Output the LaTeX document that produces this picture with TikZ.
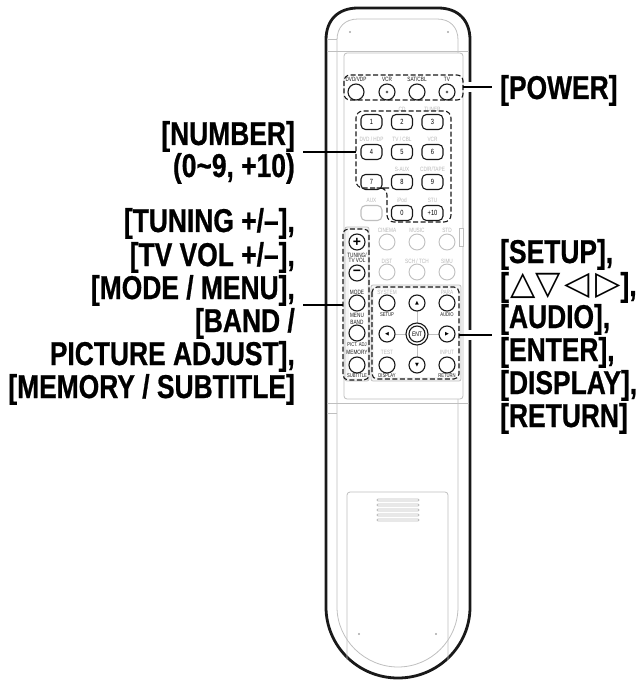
\documentclass[tikz,border=0pt]{standalone}
\usepackage{fontspec}
\setmainfont{Liberation Sans}
\newfontfamily\lblfont[FakeStretch=0.80,FakeBold=0.7]{Liberation Sans Bold}
\newfontfamily\smfont[FakeStretch=0.76]{Liberation Sans}
\newfontfamily\symfont{DejaVu Sans}
\definecolor{ln}{gray}{0.75}
\definecolor{gt}{gray}{0.72}
\definecolor{bk}{gray}{0.10}
\tikzset{
 lbl/.style={font=\lblfont\fontsize{33}{33}\selectfont,text=black,inner sep=0pt,anchor=base east},
 lblr/.style={font=\lblfont\fontsize{33}{33}\selectfont,text=black,inner sep=0pt,anchor=base west},
 leader/.style={line width=2.6pt,black},
 gline/.style={line width=0.8pt,ln},
 btn/.style={circle,draw=bk,line width=1.1pt,minimum size=16pt,inner sep=0pt,fill=white},
 gbtn/.style={circle,draw=ln,line width=0.9pt,minimum size=16pt,inner sep=0pt,fill=white},
 key/.style={rectangle,rounded corners=4.5pt,draw=bk,line width=1.1pt,minimum width=21pt,minimum height=15pt,inner sep=0pt,font=\smfont\fontsize{7.5}{8}\selectfont},
 gtxt/.style={font=\smfont\fontsize{6.2}{7}\selectfont,text=gt,inner sep=0pt},
 btxt/.style={font=\smfont\fontsize{6.2}{7}\selectfont,text=bk,inner sep=0pt},
 bsmall/.style={font=\smfont\fontsize{5.5}{6}\selectfont,text=bk,inner sep=0pt},
 dbox/.style={draw=bk,line width=1.1pt,dash pattern=on 5pt off 2.5pt},
}
\begin{document}
\begin{tikzpicture}[x=1pt,y=-1pt]
\useasboundingbox (0,0) rectangle (642,684);
% remote body
\draw[line width=2.8pt,bk] (326,40) .. controls (326,20) and (338,8) .. (358,8) -- (438,8) .. controls (458,8) and (470,20) .. (470,40) -- (470,607) .. controls (470,646) and (438,678) .. (398,678) .. controls (358,678) and (326,646) .. (326,607) -- cycle;
\draw[gline] (337,40) .. controls (337,27) and (345,19) .. (358,19) -- (437,19) .. controls (450,19) and (458,27) .. (458,40) -- (458,607) .. controls (458,640) and (431,667) .. (398,667) .. controls (365,667) and (337,640) .. (337,607) -- cycle;
\draw[gline] (327,39) -- (337,39);
\draw[gline] (327,51) -- (469,51);
\draw[gline] (327,403) -- (469,403);
\draw[gline] (327,413) -- (337,413);
\draw[gline,rounded corners=3pt,fill=white] (344,53) rectangle (463,399);
% screws
\foreach \x/\y in {350/32,448/32,359/634,436/634} \fill[gray!70] (\x,\y) circle (1.2pt);
% battery cover
\draw[gline,rounded corners=3pt] (347,660) -- (347,492) -- (448,492) -- (448,660);
\foreach \y in {500,505,510,515,520} \draw[gline,rounded corners=1pt] (377,\y-1) rectangle (419,\y+1);
% sub panel
\draw[gline,rounded corners=2pt,fill=gray!8] (371,285) rectangle (461,381);
\fill[white] (374,289) rectangle (458,377);
\draw[gline,rounded corners=2pt,fill=gray!8] (345,227) rectangle (369,381);
\fill[white] (349,230) rectangle (367,378);
% power row
\node[btn] (p1) at (356,92) {};
\node[btn] (p2) at (387,92) {};
\node[btn] (p3) at (417,92) {};
\node[btn] (p4) at (447,92) {};
\fill[bk] (p2) circle (1.4pt); \fill[white] (p2) circle (0.6pt);
\fill[bk] (p4) circle (1.4pt); \fill[white] (p4) circle (0.6pt);
\node[btxt] (lp1) at (356,79) {DVD/VDP};
\node[btxt] (lp2) at (387,79) {VCR};
\node[btxt] (lp3) at (417,79) {SAT/CBL};
\node[btxt] (lp4) at (447,79) {TV};
\draw[dbox,rounded corners=6pt] (344,75) rectangle (463,100);
% number pad
\foreach \n/\t/\x/\y in {k1/1/371.5/122,k2/2/402/122,k3/3/432.5/122,k4/4/371.5/152,k5/5/402/152,k6/6/432.5/152,k7/7/371.5/182,k8/8/402/182,k9/9/432.5/182,k0/0/402/213,k10/+10/432.5/213}
  \node[key] (\n) at (\x,\y) {\t};
\node[key,draw=ln] (kaux) at (371.5,213) {};
\foreach \n/\t/\x/\y in {a/CD/402/109,b/TUNER/432.5/109,c/{DVD / HDP}/371.5/139,d/{TV / CBL}/402/139,e/VCR/432.5/139,f/S-AUX/402/169,g/{CD/R/TAPE}/432.5/169,h/AUX/371.5/200,i/iPod/402/200,j/STU/432.5/200}
  \node[gtxt] (t\n) at (\x,\y) {\t};
\draw[dbox,rounded corners=7pt] (382,188) -- (356,188) -- (356,111) -- (451,111) -- (451,222) -- (387,222) -- (387,188) -- cycle;
% grey rows
\foreach \n/\t/\x in {a/CINEMA/387,b/MUSIC/417,c/STD/447} {\node[gbtn] (g\n) at (\x,242) {}; \node[gtxt] (gl\n) at (\x,230) {\t};}
\foreach \n/\t/\x in {d/{D/ST}/387,e/{SCH / TCH}/417,f/SIMU/447} {\node[gbtn] (g\n) at (\x,272) {}; \node[gtxt] (gl\n) at (\x,261) {\t};}
\draw[gline,fill=white] (459,228) rectangle (463,246);
% left column
\node[btn] (plus) at (357,242) {\fontsize{14}{14}\selectfont\bfseries +};
\node[btxt,align=center,font=\smfont\fontsize{6.2}{5.5}\selectfont] (ltun) at (357,258) {TUNING/\\TV VOL};
\node[btn] (minus) at (357,273) {\fontsize{14}{14}\selectfont\bfseries −};
\node[btxt] (lmode) at (357,292) {MODE};
\node[btn] (mode) at (357,303) {};
\node[btxt] (lmenu) at (357,315) {MENU};
\node[btxt] (lband) at (357,322) {BAND};
\node[btn] (band) at (357,333) {};
\node[bsmall] (lpict) at (357,345) {PICT. ADJ};
\node[btxt] (lmem) at (357,352) {MEMORY};
\node[btn] (mem) at (357,365) {};
\node[bsmall] (lsub) at (357,375.5) {SUBTITLE};
\draw[dbox,rounded corners=5pt] (343,229) rectangle (369,380);
% cursor pad
\draw[gline] (417,303) -- (417,365) (387,334) -- (447,334);
\node[btn] (setup) at (387,303) {};
\node[btn] (up) at (417,303) {\fontsize{5}{5}\selectfont\symfont ▲};
\node[btn] (audio) at (447,303) {};
\node[btn] (left) at (387,334) {\fontsize{5}{5}\selectfont\symfont ◀};
\node[btn,minimum size=22pt] (ent) at (417,334) {};
\node[btn,font=\smfont\fontsize{6.5}{7}\selectfont] (entb) at (417,334) {ENT};
\node[btn] (right) at (447,334) {\fontsize{5}{5}\selectfont\symfont ▶};
\node[btn] (disp) at (387,365) {};
\node[btn] (down) at (417,365) {\fontsize{5}{5}\selectfont\symfont ▼};
\node[btn] (ret) at (447,365) {};
\node[gtxt] (lsys) at (387,292) {SYSTEM};
\node[gtxt] (lpara) at (447,292) {PARA};
\node[bsmall] (lset) at (387,315) {SETUP};
\node[bsmall] (laud) at (447,315) {AUDIO};
\node[gtxt] (ltest) at (387,352) {TEST};
\node[gtxt] (linp) at (447,352) {INPUT};
\node[bsmall] (ldis) at (387,375.5) {DISPLAY};
\node[bsmall] (lret) at (447,375.5) {RETURN};
\draw[dbox,rounded corners=5pt] (372,287) rectangle (459,379);
% labels
\node[lblr] (power) at (500,99) {[POWER]};
\node[lbl] (number) at (295,145) {[NUMBER]};
\node[lbl] (n2) at (295,177) {(0\char"7E 9, +10)};
\node[lbl] (t1) at (295,232) {[TUNING +/–],};
\node[lbl] (t2) at (295,266) {[TV VOL +/–],};
\node[lbl] (t3) at (295,299) {[MODE / MENU],};
\node[lbl] (t4) at (295,332) {[BAND /};
\node[lbl] (t5) at (295,365) {PICTURE ADJUST],};
\node[lbl] (t6) at (295,398) {[MEMORY / SUBTITLE]};
\node[lblr] (s1) at (500,263) {[SETUP],};
\node[lblr] (s2) at (500,296) {[{\symfont\fontsize{33}{33}\selectfont\raisebox{1.5pt}{\kern1pt △\kern0pt▽\kern4pt◁\kern5pt▷\kern0pt}}],};
\node[lblr] (s3) at (500,328) {[AUDIO],};
\node[lblr] (s4) at (500,361) {[ENTER],};
\node[lblr] (s5) at (500,394) {[DISPLAY],};
\node[lblr] (s6) at (500,427) {[RETURN]};
% leaders
\coordinate (cpow) at (463,87); \coordinate (epow) at (492,87);
\coordinate (cnum) at (356,152); \coordinate (enum) at (303,152);
\coordinate (ctun) at (343,305); \coordinate (etun) at (303,305);
\coordinate (cset) at (459,335); \coordinate (eset) at (492,335);
\draw[white,line width=10pt] (468,87) -- (472,87) (468,335) -- (472,335);
\draw[leader] (cpow) -- (epow);
\draw[leader] (enum) -- (cnum);
\draw[leader] (etun) -- (ctun);
\draw[leader] (cset) -- (eset);
\end{tikzpicture}
\end{document}
